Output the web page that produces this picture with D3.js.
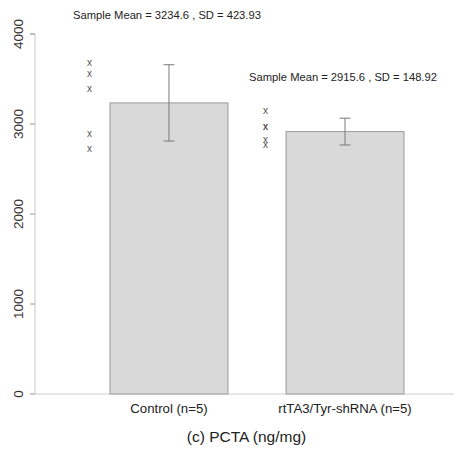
<!DOCTYPE html>
<html>
<head>
<meta charset="utf-8">
<script src="https://cdn.jsdelivr.net/npm/d3@7"></script>
<style>
  html, body { margin: 0; padding: 0; background: #fff; }
  svg { display: block; font-family: "Liberation Sans", Arial, Helvetica, sans-serif; }
</style>
</head>
<body>
<svg id="chart" width="454" height="449"></svg>
<script>
// Groups and their measurements (PCTA, ng/mg)
const categories = ["Control (n=5)", "rtTA3/Tyr-shRNA (n=5)"];
const means = [3234.6, 2915.6];
const sds = [423.93, 148.92];
const samples = [
  [3667, 3545, 3379, 2879, 2703],
  [3125, 2952, 2950, 2803, 2748]
];
// value level at which each summary line sits
const labelLevels = [4210, 3520];
const yTicks = [0, 1000, 2000, 3000, 4000];
const xTitle = "(c) PCTA (ng/mg)";

const svg = d3.select("#chart");
const W = 454, H = 449;
const m = { left: 35, top: 34, bottom: 55 };
const plotBottom = H - m.bottom; // 394

const y = d3.scaleLinear().domain([0, 4000]).range([plotBottom, m.top]);
const x = d3.scaleBand().domain(categories).range([39.6, 474.4]).paddingInner(0.33).paddingOuter(0.4);

// baseline along the bottom
svg.append("line")
  .attr("x1", m.left).attr("x2", W)
  .attr("y1", plotBottom).attr("y2", plotBottom)
  .attr("stroke", "#cfcfcf").attr("stroke-width", 1);

// left axis
const yAxis = svg.append("g")
  .attr("transform", `translate(${m.left},0)`)
  .call(d3.axisLeft(y).tickValues(yTicks).tickSize(5).tickPadding(0).tickFormat(d3.format("d")));
yAxis.select(".domain").attr("stroke", "#c8c8c8").attr("d", `M-5,${y(4000)}H0V${y(0)}`);
yAxis.selectAll(".tick line").attr("stroke", "#9a9a9a");
yAxis.selectAll(".tick").attr("transform", null);
yAxis.selectAll(".tick line").each(function(d) {
  d3.select(this).attr("y1", y(d)).attr("y2", y(d));
});
yAxis.selectAll(".tick text").each(function(d) {
  d3.select(this)
    .attr("transform", `translate(0,${y(d)}) rotate(-90)`)
    .attr("x", 0).attr("y", -17)
    .attr("dy", "0.35em")
    .attr("text-anchor", "middle")
    .attr("fill", "#333")
    .style("font-size", "13.5px");
});

const groups = svg.selectAll("g.grp")
  .data(categories.map((c, i) => ({ c, mean: means[i], sd: sds[i], pts: samples[i], lab: labelLevels[i] })))
  .join("g").attr("class", "grp");

// bars
groups.append("rect")
  .attr("x", d => x(d.c))
  .attr("width", x.bandwidth())
  .attr("y", d => y(d.mean))
  .attr("height", d => y(0) - y(d.mean))
  .attr("fill", "#d9d9d9")
  .attr("stroke", "#9a9a9a")
  .attr("stroke-width", 1);

// error bars (mean ± SD)
const cx = d => x(d.c) + x.bandwidth() / 2;
groups.append("line")
  .attr("x1", cx).attr("x2", cx)
  .attr("y1", d => y(d.mean + d.sd)).attr("y2", d => y(d.mean - d.sd))
  .attr("stroke", "#7a7a7a");
[1, -1].forEach(s => {
  groups.append("line")
    .attr("x1", d => cx(d) - 5.5).attr("x2", d => cx(d) + 5.5)
    .attr("y1", d => y(d.mean + s * d.sd)).attr("y2", d => y(d.mean + s * d.sd))
    .attr("stroke", "#7a7a7a");
});

// individual samples
groups.each(function(d) {
  d3.select(this).selectAll("text.pt")
    .data(d.pts)
    .join("text")
    .attr("class", "pt")
    .attr("x", x(d.c) - 20.5)
    .attr("y", v => y(v))
    .attr("dy", "0.17em")
    .attr("text-anchor", "middle")
    .attr("fill", "#555")
    .style("font-size", "10px")
    .text("x");
});

// summary lines
groups.append("text")
  .attr("x", d => cx(d) - 2)
  .attr("y", d => y(d.lab))
  .attr("dy", "0.35em")
  .attr("text-anchor", "middle")
  .attr("fill", "#222")
  .style("font-size", "11.2px")
  .text(d => `Sample Mean = ${d.mean.toFixed(1)} , SD = ${d.sd.toFixed(2)}`);

// category labels
groups.append("text")
  .attr("x", cx)
  .attr("y", plotBottom + 14)
  .attr("dy", "0.35em")
  .attr("text-anchor", "middle")
  .attr("fill", "#222")
  .style("font-size", "13.2px")
  .text(d => d.c);

// axis title
svg.append("text")
  .attr("x", 246.5)
  .attr("y", 437)
  .attr("dy", "0.35em")
  .attr("text-anchor", "middle")
  .attr("fill", "#222")
  .style("font-size", "15.5px")
  .text(xTitle);
</script>
</body>
</html>
